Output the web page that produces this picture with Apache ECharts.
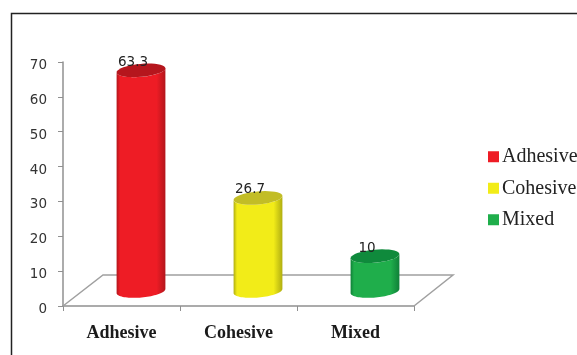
<!DOCTYPE html>
<html>
<head>
<meta charset="utf-8">
<style>html,body{margin:0;padding:0;background:#fff}#chart{width:577px;height:355px}</style>
<script src="https://cdn.jsdelivr.net/npm/echarts@6/dist/echarts.min.js"></script>
</head>
<body>
<div id="chart"></div>
<script>
// Failure modes, percentage of specimens
const categories = ['Adhesive', 'Cohesive', 'Mixed'];
const values = [63.3, 26.7, 10];
const yTicks = { min: 0, max: 70, interval: 10 };

const palette = [
  { edge: '#b3161c', mid: '#ee1c25', top: '#b5161d' },
  { edge: '#b0ae12', mid: '#f2ec18', top: '#c2bd26' },
  { edge: '#0f8038', mid: '#1fae4b', top: '#0f8a3c' }
];

const FLOOR_DX = 40, FLOOR_DY = 31;   // oblique depth of the floor plane
const BASE_LIFT = 15;                 // cylinders stand mid-way back on the floor
const SHIFT_X = 19.5;                 // sideways shift caused by the projection
const RX = 24.5, RY = 6.5, TILT = 0.09;

function ellipsePoints(cx, cy, from, to) {
  const pts = [];
  for (let i = 0; i <= 40; i++) {
    const a = from + (to - from) * i / 40;
    const x = RX * Math.cos(a), y = RY * Math.sin(a);
    pts.push([cx + x * Math.cos(TILT) + y * Math.sin(TILT),
              cy - x * Math.sin(TILT) + y * Math.cos(TILT)]);
  }
  return pts;
}

function renderCylinder(colorIdx) {
  return function (params, api) {
    const top = api.coord([api.value(0), api.value(1)]);
    const bottom = api.coord([api.value(0), 0]);
    const c = palette[colorIdx];
    const cx = top[0] + SHIFT_X;
    const topY = top[1] - BASE_LIFT, botY = bottom[1] - BASE_LIFT;
    const fill = new echarts.graphic.LinearGradient(0, 0, 1, 0, [
      { offset: 0, color: c.edge },
      { offset: 0.07, color: c.mid },
      { offset: 0.82, color: c.mid },
      { offset: 1, color: c.edge }
    ]);
    return {
      type: 'group',
      children: [
        { type: 'polygon', shape: { points: ellipsePoints(cx, topY, 0, Math.PI).reverse().concat(ellipsePoints(cx, botY, 0, Math.PI)) },
          style: { fill: fill } },
        { type: 'polygon', shape: { points: ellipsePoints(cx, topY, 0, 2 * Math.PI) },
          style: { fill: c.top } },
        { type: 'text', style: {
            text: String(api.value(1)), x: cx - 8, y: topY - 8,
            align: 'center', verticalAlign: 'middle',
            font: '13.5px "DejaVu Sans"', fill: '#222' } }
      ]
    };
  };
}

function renderFloor(params) {
  const g = params.coordSys;
  const l = g.x, r = g.x + g.width, b = g.y + g.height;
  return {
    type: 'polyline',
    shape: { points: [[l, b], [l + FLOOR_DX, b - FLOOR_DY], [r + FLOOR_DX - 1, b - FLOOR_DY], [r, b]] },
    style: { fill: null, stroke: '#a0a0a0', lineWidth: 1.5 }
  };
}

const chart = echarts.init(document.getElementById('chart'), null, { renderer: 'canvas' });
chart.setOption({
  animation: false,
  backgroundColor: '#fff',
  grid: { left: 63, right: 163, top: 62, bottom: 49 },
  xAxis: {
    type: 'category',
    data: categories,
    axisLine: { lineStyle: { color: '#909090', width: 1.5 } },
    axisTick: { show: true, length: 5, alignWithLabel: false, lineStyle: { color: '#909090', width: 1 } },
    axisLabel: { margin: 18, color: '#1a1a1a', fontFamily: 'Liberation Serif', fontWeight: 'bold', fontSize: 18 }
  },
  yAxis: {
    type: 'value',
    min: yTicks.min, max: yTicks.max, interval: yTicks.interval,
    splitLine: { show: false },
    axisLine: { show: true, lineStyle: { color: '#909090', width: 1.5 } },
    axisTick: { show: true, length: 5, lineStyle: { color: '#909090', width: 1 } },
    axisLabel: { margin: 16, color: '#333', fontFamily: 'DejaVu Sans', fontSize: 13.5, verticalAlign: 'top', lineHeight: 7 }
  },
  legend: {
    orient: 'vertical',
    left: 483, top: 141,
    itemWidth: 11, itemHeight: 11, itemGap: 10,
    icon: 'rect',
    data: categories,
    textStyle: { fontFamily: 'Liberation Serif', fontSize: 20, color: '#222', lineHeight: 21.5, padding: [0, 0, 0, -2] }
  },
  graphic: [{
    type: 'polyline',
    silent: true,
    shape: { points: [[11.5, 355], [11.5, 13.5], [577, 13.5]] },
    style: { fill: null, stroke: '#222', lineWidth: 1.5 }
  }],
  series: [
    { type: 'custom', silent: true, renderItem: renderFloor, data: [[0, 0]], z: 1, legendHoverLink: false }
  ].concat(categories.map((name, i) => ({
    type: 'custom',
    name: name,
    z: 3,
    itemStyle: { color: palette[i].mid },
    renderItem: renderCylinder(i),
    data: [[i, values[i]]]
  })))
});
</script>
</body>
</html>
